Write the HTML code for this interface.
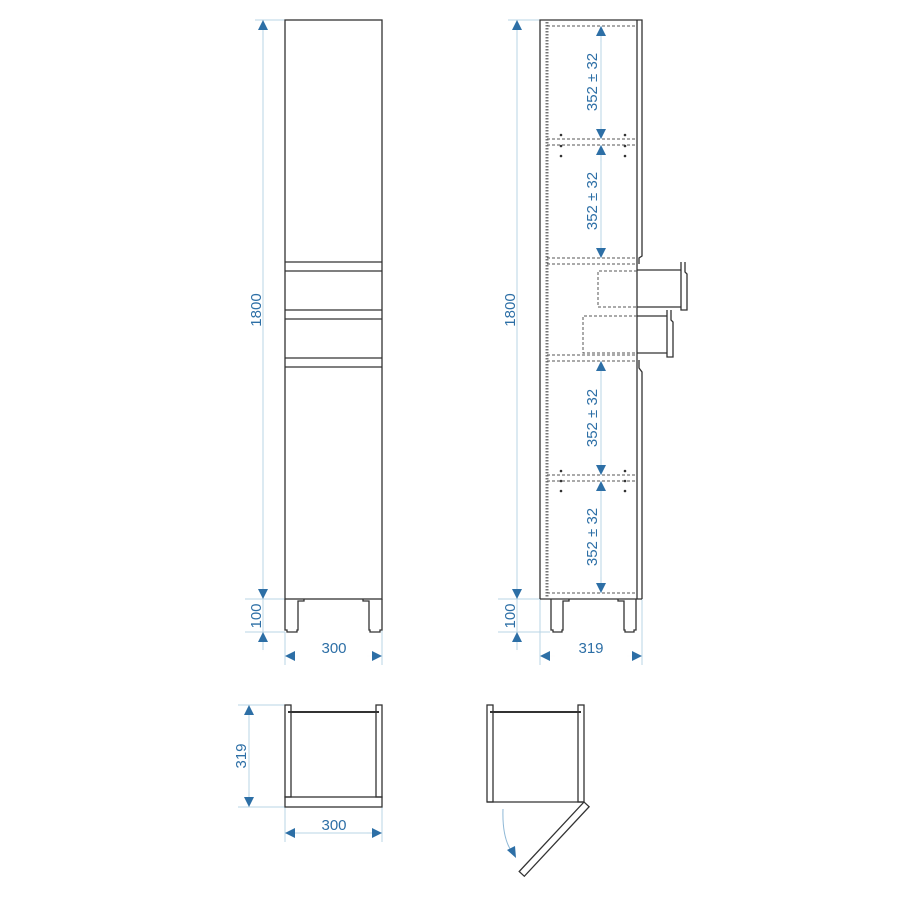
<!DOCTYPE html>
<html><head><meta charset="utf-8"><style>
html,body{margin:0;padding:0;background:#fff;}
svg{display:block;}
text{font-family:"Liberation Sans",sans-serif;fill:#2d6fa6;font-size:15px;}
</style></head><body>
<svg width="900" height="900" viewBox="0 0 900 900" xmlns="http://www.w3.org/2000/svg">
<defs>
<marker id="b" viewBox="0 0 10 10" refX="10" refY="5" markerWidth="16" markerHeight="10" orient="auto-start-reverse" markerUnits="userSpaceOnUse">
<path d="M0,0 L10,5 L0,10 z" fill="#2d6fa6"/></marker>
</defs>
<g stroke="#b8d4e6" stroke-width="1" fill="none">
<line x1="255" y1="20" x2="285" y2="20"/>
<line x1="245" y1="599" x2="285" y2="599"/>
<line x1="245" y1="632" x2="285" y2="632"/>
<line x1="285" y1="632" x2="285" y2="665"/>
<line x1="382" y1="599" x2="382" y2="665"/>
<line x1="263" y1="20" x2="263" y2="650"/>
<line x1="508" y1="20" x2="540" y2="20"/>
<line x1="498" y1="599" x2="540" y2="599"/>
<line x1="498" y1="632" x2="550" y2="632"/>
<line x1="540" y1="599" x2="540" y2="665"/>
<line x1="642" y1="599" x2="642" y2="665"/>
<line x1="517" y1="20" x2="517" y2="650"/>
<line x1="601" y1="26" x2="601" y2="139"/>
<line x1="601" y1="145" x2="601" y2="258"/>
<line x1="601" y1="361" x2="601" y2="475"/>
<line x1="601" y1="481" x2="601" y2="593"/>
<line x1="238" y1="705" x2="285" y2="705"/>
<line x1="238" y1="807" x2="285" y2="807"/>
<line x1="249" y1="705" x2="249" y2="807"/>
<line x1="285" y1="807" x2="285" y2="842"/>
<line x1="382" y1="807" x2="382" y2="842"/>
<line x1="285" y1="833" x2="382" y2="833"/>
</g>
<g stroke="#2d6fa6" stroke-width="0.01" fill="none">
<line x1="263" y1="40" x2="263" y2="20" marker-end="url(#b)"/>
<line x1="263" y1="580" x2="263" y2="599" marker-end="url(#b)"/>
<line x1="263" y1="652" x2="263" y2="632" marker-end="url(#b)"/>
<line x1="517" y1="40" x2="517" y2="20" marker-end="url(#b)"/>
<line x1="517" y1="580" x2="517" y2="599" marker-end="url(#b)"/>
<line x1="517" y1="652" x2="517" y2="632" marker-end="url(#b)"/>
<line x1="300" y1="656" x2="285" y2="656" marker-end="url(#b)"/>
<line x1="367" y1="656" x2="382" y2="656" marker-end="url(#b)"/>
<line x1="555" y1="656" x2="540" y2="656" marker-end="url(#b)"/>
<line x1="627" y1="656" x2="642" y2="656" marker-end="url(#b)"/>
<line x1="300" y1="833" x2="285" y2="833" marker-end="url(#b)"/>
<line x1="367" y1="833" x2="382" y2="833" marker-end="url(#b)"/>
<line x1="249" y1="720" x2="249" y2="705" marker-end="url(#b)"/>
<line x1="249" y1="792" x2="249" y2="807" marker-end="url(#b)"/>
<line x1="601" y1="42" x2="601" y2="26" marker-end="url(#b)"/>
<line x1="601" y1="123" x2="601" y2="139" marker-end="url(#b)"/>
<line x1="601" y1="161" x2="601" y2="145" marker-end="url(#b)"/>
<line x1="601" y1="242" x2="601" y2="258" marker-end="url(#b)"/>
<line x1="601" y1="377" x2="601" y2="361" marker-end="url(#b)"/>
<line x1="601" y1="459" x2="601" y2="475" marker-end="url(#b)"/>
<line x1="601" y1="497" x2="601" y2="481" marker-end="url(#b)"/>
<line x1="601" y1="577" x2="601" y2="593" marker-end="url(#b)"/>
</g>
<g>
<text transform="translate(261,310) rotate(-90)" text-anchor="middle">1800</text>
<text transform="translate(261,616) rotate(-90)" text-anchor="middle">100</text>
<text transform="translate(515,310) rotate(-90)" text-anchor="middle">1800</text>
<text transform="translate(515,616) rotate(-90)" text-anchor="middle">100</text>
<text x="334" y="653" text-anchor="middle">300</text>
<text x="591" y="653" text-anchor="middle">319</text>
<text x="334" y="830" text-anchor="middle">300</text>
<text transform="translate(246,756) rotate(-90)" text-anchor="middle">319</text>
<text transform="translate(597,82) rotate(-90)" text-anchor="middle" font-size="14">352 ± 32</text>
<text transform="translate(597,201) rotate(-90)" text-anchor="middle" font-size="14">352 ± 32</text>
<text transform="translate(597,418) rotate(-90)" text-anchor="middle" font-size="14">352 ± 32</text>
<text transform="translate(597,537) rotate(-90)" text-anchor="middle" font-size="14">352 ± 32</text>
</g>
<g stroke="#333" stroke-width="1.3" fill="none">
<rect x="285" y="20" width="97" height="579"/>
<line x1="285" y1="262" x2="382" y2="262"/>
<line x1="285" y1="271" x2="382" y2="271"/>
<line x1="285" y1="310" x2="382" y2="310"/>
<line x1="285" y1="319" x2="382" y2="319"/>
<line x1="285" y1="358" x2="382" y2="358"/>
<line x1="285" y1="367" x2="382" y2="367"/>
<path d="M285,599 V630 H287 V632 H297 V630 H298 V601 H304 V599"/>
<path d="M382,599 V630 H380 V632 H370 V630 H369 V601 H363 V599"/>
</g>
<g stroke="#333" stroke-width="1.3" fill="none">
<path d="M540,599 V20 H642 V256 L639,258 V264"/>
<line x1="540" y1="599" x2="642" y2="599"/>
<path d="M642,599 V372 L639,368 V360"/>
<line x1="637" y1="20" x2="637" y2="599"/>
<line x1="637" y1="270" x2="681" y2="270"/>
<line x1="637" y1="307" x2="681" y2="307"/>
<path d="M681,262 V310 H687 V274 L685,272 V262"/>
<line x1="637" y1="316" x2="667" y2="316"/>
<line x1="637" y1="353" x2="667" y2="353"/>
<path d="M667,310 V357 H673 V322 L671,320 V310"/>
<path d="M551,599 V630 H553 V632 H562 V630 H563 V601 H569 V599"/>
<path d="M636,599 V630 H634 V632 H625 V630 H624 V601 H618 V599"/>
</g>
<g stroke="#555" stroke-width="1" fill="none" stroke-dasharray="3,2">
<line x1="547" y1="22" x2="547" y2="597" stroke-width="3" stroke-dasharray="1.5,1.5" stroke="#777"/>
<line x1="547" y1="26" x2="637" y2="26"/>
<line x1="547" y1="139" x2="637" y2="139"/>
<line x1="547" y1="145" x2="637" y2="145"/>
<line x1="547" y1="258" x2="637" y2="258"/>
<line x1="547" y1="264" x2="637" y2="264"/>
<line x1="547" y1="355" x2="637" y2="355"/>
<line x1="547" y1="361" x2="637" y2="361"/>
<line x1="547" y1="475" x2="637" y2="475"/>
<line x1="547" y1="481" x2="637" y2="481"/>
<line x1="547" y1="593" x2="637" y2="593"/>
<path d="M637,271 H598 V307 H637"/>
<path d="M637,316 H583 V353 H637"/>
</g>
<g fill="#333">
<circle cx="561" cy="135" r="1.3"/><circle cx="625" cy="135" r="1.3"/>
<circle cx="561" cy="146" r="1.3"/><circle cx="625" cy="146" r="1.3"/>
<circle cx="561" cy="156" r="1.3"/><circle cx="625" cy="156" r="1.3"/>
<circle cx="561" cy="471" r="1.3"/><circle cx="625" cy="471" r="1.3"/>
<circle cx="561" cy="481" r="1.3"/><circle cx="625" cy="481" r="1.3"/>
<circle cx="561" cy="491" r="1.3"/><circle cx="625" cy="491" r="1.3"/>
</g>
<g stroke="#333" stroke-width="1.3" fill="none">
<rect x="285" y="705" width="6" height="92"/>
<rect x="376" y="705" width="6" height="92"/>
<rect x="285" y="797" width="97" height="10"/>
<line x1="288" y1="712" x2="379" y2="712" stroke-width="2"/>
</g>
<g stroke="#333" stroke-width="1.3" fill="none">
<rect x="487" y="705" width="6" height="97"/>
<rect x="578" y="705" width="6" height="97"/>
<line x1="487" y1="802" x2="584" y2="802"/>
<line x1="490" y1="712" x2="581" y2="712" stroke-width="2"/>
<g transform="translate(584,802) rotate(133)">
<rect x="0" y="-7" width="95" height="7"/>
</g>
</g>
<path d="M503,809 Q502,838 512,852" stroke="#8fb8d6" stroke-width="1" fill="none"/>
<path d="M507,850 L516,858 L515,846 z" fill="#2d6fa6"/>
</svg>
</body></html>
